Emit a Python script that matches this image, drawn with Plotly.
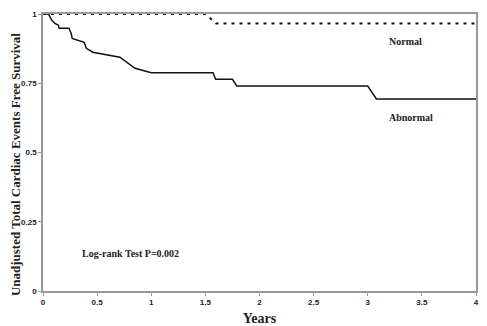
import plotly.graph_objects as go

abnormal_years = [0, 0.05, 0.08, 0.11, 0.14, 0.15, 0.24, 0.26, 0.27, 0.38, 0.40, 0.46, 0.71, 0.77, 0.85, 1.0, 1.57, 1.595, 1.75, 1.79, 3.0, 3.08, 4.0]
abnormal_surv = [1, 1, 0.978, 0.966, 0.96, 0.949, 0.949, 0.93, 0.912, 0.898, 0.876, 0.862, 0.844, 0.828, 0.804, 0.788, 0.788, 0.764, 0.764, 0.74, 0.74, 0.693, 0.693]
normal_years = [0, 1.5, 1.6, 4.0]
normal_surv = [1, 1, 0.966, 0.966]

x_ticks = [0, 0.5, 1, 1.5, 2, 2.5, 3, 3.5, 4]
x_tick_labels = ["0", "0.5", "1", "1.5", "2", "2.5", "3", "3.5", "4"]
y_ticks = [0, 0.25, 0.5, 0.75, 1]
y_tick_labels = ["0", "0.25", "0.5", "0.75", "1"]

fig = go.Figure()
fig.add_trace(go.Scatter(x=normal_years, y=normal_surv, mode="lines",
                         line=dict(color="#111", width=2, dash="3px,5px"), name="Normal"))
fig.add_trace(go.Scatter(x=abnormal_years, y=abnormal_surv, mode="lines",
                         line=dict(color="#111", width=1.5), name="Abnormal"))

serif = "Liberation Serif"
fig.add_annotation(x=3.18, y=0.899, text="Normal", showarrow=False, xanchor="left",
                   font=dict(family=serif, size=10, color="#222", weight="bold"))
fig.add_annotation(x=3.18, y=0.628, text="Abnormal", showarrow=False, xanchor="left",
                   font=dict(family=serif, size=10, color="#222", weight="bold"))
fig.add_annotation(x=0.34, y=0.137, text="Log-rank Test P=0.002", showarrow=False, xanchor="left",
                   font=dict(family=serif, size=10, color="#222", weight="bold"))
fig.add_annotation(xref="paper", yref="paper", x=-0.062, y=0.455, textangle=-90,
                   text="Unadjusted Total Cardiac Events Free Survival", showarrow=False,
                   xanchor="center", yanchor="middle",
                   font=dict(family=serif, size=13, color="#222", weight="bold"))

axis_common = dict(showgrid=False, zeroline=False, showline=True, linecolor="#999", linewidth=1.5,
                   ticks="outside", ticklen=3, tickcolor="#999", automargin=False,
                   tickfont=dict(family="Liberation Sans", size=8, color="#222", weight="bold"))
fig.update_xaxes(range=[0, 4], tickvals=x_ticks, ticktext=x_tick_labels, mirror=True,
                 title=dict(text="Years", font=dict(family=serif, size=14, color="#222", weight="bold")),
                 **axis_common)
fig.update_yaxes(range=[0, 1], tickvals=y_ticks, ticktext=y_tick_labels, mirror=True,
                 **axis_common)
fig.update_layout(width=487, height=326, margin=dict(l=43, r=11, t=14, b=35),
                  plot_bgcolor="white", paper_bgcolor="white", showlegend=False)
fig.write_html("out.html", config={"displayModeBar": False},
               post_script="document.body.style.margin='0';document.body.style.overflow='hidden';")
